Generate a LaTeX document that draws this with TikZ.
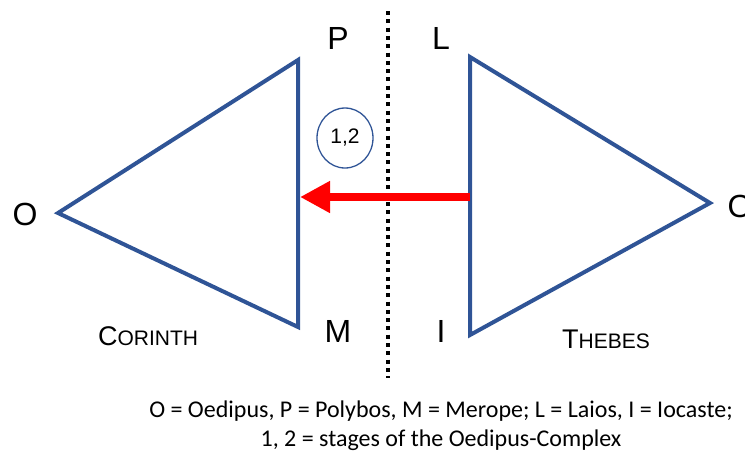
\documentclass[tikz,border=0pt]{standalone}
\usepackage{fontspec}
\usetikzlibrary{arrows.meta,shapes.geometric}
\newfontfamily\arialf{Liberation Sans}
\newfontfamily\calibrif{Carlito}
\definecolor{tblue}{RGB}{47,84,150}
\definecolor{ared}{RGB}{255,0,0}
\begin{document}
\begin{tikzpicture}[x=1pt,y=-1pt,
  tri/.style={draw=tblue,line width=4pt,line join=miter},
  lbl/.style={font=\arialf\fontsize{32}{38}\selectfont,inner sep=0pt},
  city/.style={font=\arialf\fontsize{27}{32}\selectfont,inner sep=0pt},
  capt/.style={font=\calibrif\fontsize{24}{29}\selectfont,inner sep=0pt,align=center}]
\useasboundingbox (0,0) rectangle (745,459);
% triangles
\coordinate (la) at (58,213);
\coordinate (lb) at (298,60);
\coordinate (lc) at (298,327);
\draw[tri] (la) -- (lb) -- (lc) -- cycle;
\coordinate (ra) at (470,57);
\coordinate (rb) at (470,335);
\coordinate (rc) at (710,203);
\draw[tri] (ra) -- (rb) -- (rc) -- cycle;
% dotted divider
\coordinate (dtop) at (388,11);
\coordinate (dbot) at (388,378);
\draw[line width=4pt,dash pattern=on 4pt off 4.3pt] (dtop) -- (dbot);
% circle
\node[draw=tblue,line width=1.3pt,ellipse,minimum width=56pt,minimum height=60pt,inner sep=0pt,font=\arialf\fontsize{21}{25}\selectfont] (stage) at (345,138) {1,2};
% arrow
\coordinate (astart) at (470,197);
\coordinate (aend) at (300,197);
\draw[ared,line width=8pt,-{Triangle[length=30pt,width=30pt]}] (astart) -- (aend);
% labels
\node[lbl] (P) at (338,38) {P};
\node[lbl] (L) at (441,38) {L};
\node[lbl] (O1) at (25,214) {O};
\node[lbl] (O2) at (740,206) {O};
\node[lbl] (M) at (338,331) {M};
\node[lbl] (I) at (441,331) {I};
\node[city] (cor) at (148,336) {C{\fontsize{21}{25}\selectfont ORINTH}};
\node[city] (the) at (606,339) {T{\fontsize{21}{25}\selectfont HEBES}};
\node[capt] (cap) at (441,426) {O = Oedipus, P = Polybos, M = Merope; L = Laios, I = Iocaste;\\1, 2 = stages of the Oedipus-Complex};
\end{tikzpicture}
\end{document}
